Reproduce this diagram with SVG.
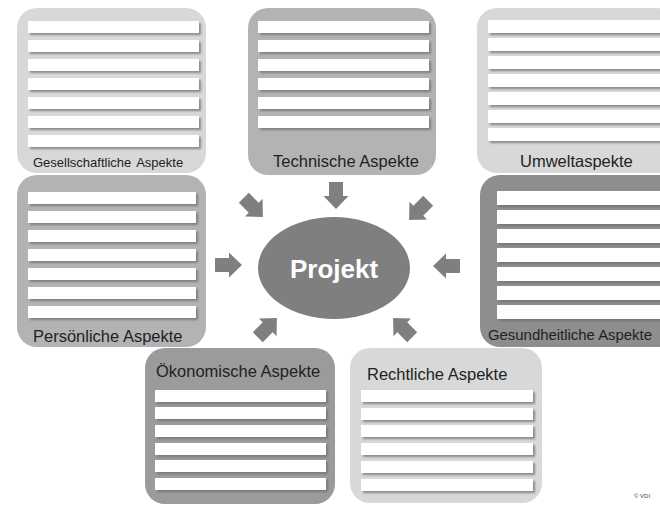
<svg xmlns="http://www.w3.org/2000/svg" width="660" height="505" viewBox="0 0 660 505">
<defs>
<style>
.light{fill:#d8d8d8}
.mid{fill:#b3b3b3}
.dark{fill:#8e8e8e}
.ok{fill:#9b9b9b}
.bar{fill:#ffffff}
.sh{fill:#6e6e6e;opacity:0.75}
.lbl{font-family:"Liberation Sans",Arial,sans-serif;font-size:16.5px;fill:#222}
.arr{fill:#7f7f7f}
</style>
<path id="arrow" d="M-13,-7 L1,-7 L1,-12.5 L14,0 L1,12.5 L1,7 L-13,7 Z"/>
<filter id="blur" x="-5%" y="-50%" width="110%" height="200%"><feGaussianBlur stdDeviation="0.8"/></filter>
</defs>
<rect width="660" height="505" fill="#ffffff"/>

<g id="gesellschaftliche">
<rect class="light" x="17" y="8" width="189" height="165" rx="20"/>
<g class="sh" filter="url(#blur)">
<rect x="30" y="23" width="171" height="12"/><rect x="30" y="42" width="171" height="12"/><rect x="30" y="61" width="171" height="12"/><rect x="30" y="80" width="171" height="12"/><rect x="30" y="99" width="171" height="12"/><rect x="30" y="118" width="171" height="12"/><rect x="30" y="137" width="171" height="12"/>
</g>
<g class="bar">
<rect x="28" y="21" width="171" height="12"/><rect x="28" y="40" width="171" height="12"/><rect x="28" y="59" width="171" height="12"/><rect x="28" y="78" width="171" height="12"/><rect x="28" y="97" width="171" height="12"/><rect x="28" y="116" width="171" height="12"/><rect x="28" y="135" width="171" height="12"/>
</g>
<text class="lbl" x="33" y="167" style="font-size:13px" word-spacing="2">Gesellschaftliche Aspekte</text>
</g>

<g id="technische">
<rect class="mid" x="248" y="8" width="188" height="167" rx="20"/>
<g class="sh" filter="url(#blur)">
<rect x="260" y="23" width="171" height="12"/><rect x="260" y="42" width="171" height="12"/><rect x="260" y="61" width="171" height="12"/><rect x="260" y="80" width="171" height="12"/><rect x="260" y="99" width="171" height="12"/><rect x="260" y="118" width="171" height="12"/>
</g>
<g class="bar">
<rect x="258" y="21" width="171" height="12"/><rect x="258" y="40" width="171" height="12"/><rect x="258" y="59" width="171" height="12"/><rect x="258" y="78" width="171" height="12"/><rect x="258" y="97" width="171" height="12"/><rect x="258" y="116" width="171" height="12"/>
</g>
<text class="lbl" x="346" y="167" text-anchor="middle">Technische Aspekte</text>
</g>

<g id="umwelt">
<rect class="light" x="477" y="8" width="200" height="165" rx="20"/>
<g class="sh" filter="url(#blur)">
<rect x="490" y="22" width="180" height="13"/><rect x="490" y="40" width="180" height="13"/><rect x="490" y="58" width="180" height="13"/><rect x="490" y="76" width="180" height="13"/><rect x="490" y="94" width="180" height="13"/><rect x="490" y="112" width="180" height="13"/><rect x="490" y="130" width="180" height="13"/>
</g>
<g class="bar">
<rect x="488" y="20" width="180" height="13"/><rect x="488" y="38" width="180" height="13"/><rect x="488" y="56" width="180" height="13"/><rect x="488" y="74" width="180" height="13"/><rect x="488" y="92" width="180" height="13"/><rect x="488" y="110" width="180" height="13"/><rect x="488" y="128" width="180" height="13"/>
</g>
<text class="lbl" x="520" y="167">Umweltaspekte</text>
</g>

<g id="persoenliche">
<rect class="mid" x="17" y="175" width="189" height="172" rx="20"/>
<g class="sh" filter="url(#blur)">
<rect x="30" y="194" width="168" height="12"/><rect x="30" y="213" width="168" height="12"/><rect x="30" y="232" width="168" height="12"/><rect x="30" y="251" width="168" height="12"/><rect x="30" y="270" width="168" height="12"/><rect x="30" y="289" width="168" height="12"/><rect x="30" y="308" width="168" height="12"/>
</g>
<g class="bar">
<rect x="28" y="192" width="168" height="12"/><rect x="28" y="211" width="168" height="12"/><rect x="28" y="230" width="168" height="12"/><rect x="28" y="249" width="168" height="12"/><rect x="28" y="268" width="168" height="12"/><rect x="28" y="287" width="168" height="12"/><rect x="28" y="306" width="168" height="12"/>
</g>
<text class="lbl" x="33" y="342">Persönliche Aspekte</text>
</g>

<g id="gesundheitliche">
<rect class="dark" x="480" y="175" width="200" height="172" rx="20"/>
<g class="sh" filter="url(#blur)">
<rect x="499" y="193" width="170" height="14"/><rect x="499" y="212" width="170" height="14"/><rect x="499" y="231" width="170" height="14"/><rect x="499" y="250" width="170" height="14"/><rect x="499" y="269" width="170" height="14"/><rect x="499" y="288" width="170" height="14"/><rect x="499" y="307" width="170" height="14"/>
</g>
<g class="bar">
<rect x="497" y="191" width="170" height="14"/><rect x="497" y="210" width="170" height="14"/><rect x="497" y="229" width="170" height="14"/><rect x="497" y="248" width="170" height="14"/><rect x="497" y="267" width="170" height="14"/><rect x="497" y="286" width="170" height="14"/><rect x="497" y="305" width="170" height="14"/>
</g>
<text class="lbl" x="488" y="340" style="font-size:15.5px" textLength="164" lengthAdjust="spacingAndGlyphs">Gesundheitliche Aspekte</text>
</g>

<g id="oekonomische">
<rect class="ok" x="145" y="348" width="190" height="156" rx="20"/>
<g class="sh" filter="url(#blur)">
<rect x="157" y="392" width="171" height="12"/><rect x="157" y="409" width="171" height="12"/><rect x="157" y="427" width="171" height="12"/><rect x="157" y="445" width="171" height="12"/><rect x="157" y="462" width="171" height="12"/><rect x="157" y="480" width="171" height="12"/>
</g>
<g class="bar">
<rect x="155" y="390" width="171" height="12"/><rect x="155" y="407" width="171" height="12"/><rect x="155" y="425" width="171" height="12"/><rect x="155" y="443" width="171" height="12"/><rect x="155" y="460" width="171" height="12"/><rect x="155" y="478" width="171" height="12"/>
</g>
<text class="lbl" x="156" y="377">Ökonomische Aspekte</text>
</g>

<g id="rechtliche">
<rect class="light" x="350" y="348" width="192" height="155" rx="20"/>
<g class="sh" filter="url(#blur)">
<rect x="363" y="392" width="172" height="12"/><rect x="363" y="410" width="172" height="12"/><rect x="363" y="427" width="172" height="12"/><rect x="363" y="445" width="172" height="12"/><rect x="363" y="463" width="172" height="12"/><rect x="363" y="481" width="172" height="12"/>
</g>
<g class="bar">
<rect x="361" y="390" width="172" height="12"/><rect x="361" y="408" width="172" height="12"/><rect x="361" y="425" width="172" height="12"/><rect x="361" y="443" width="172" height="12"/><rect x="361" y="461" width="172" height="12"/><rect x="361" y="479" width="172" height="12"/>
</g>
<text class="lbl" x="367" y="380">Rechtliche Aspekte</text>
</g>

<g id="projekt">
<ellipse cx="334" cy="268" rx="76" ry="51" fill="#7f7f7f"/>
<text x="334" y="278" text-anchor="middle" style="font-family:'Liberation Sans',Arial,sans-serif;font-size:26px;font-weight:bold;fill:#ffffff">Projekt</text>
</g>

<g id="connectors" class="arr">
<use href="#arrow" transform="translate(228,265)"/>
<use href="#arrow" transform="translate(447,266) rotate(180)"/>
<use href="#arrow" transform="translate(336,195) rotate(90)"/>
<use href="#arrow" transform="translate(253,207) rotate(45)"/>
<use href="#arrow" transform="translate(419,210) rotate(135)"/>
<use href="#arrow" transform="translate(267,328) rotate(-45)"/>
<use href="#arrow" transform="translate(403,328) rotate(-135)"/>
</g>

<text x="642" y="498" style="font-family:'Liberation Sans',Arial,sans-serif;font-size:6px;fill:#444" text-anchor="middle">© VDI</text>
</svg>
